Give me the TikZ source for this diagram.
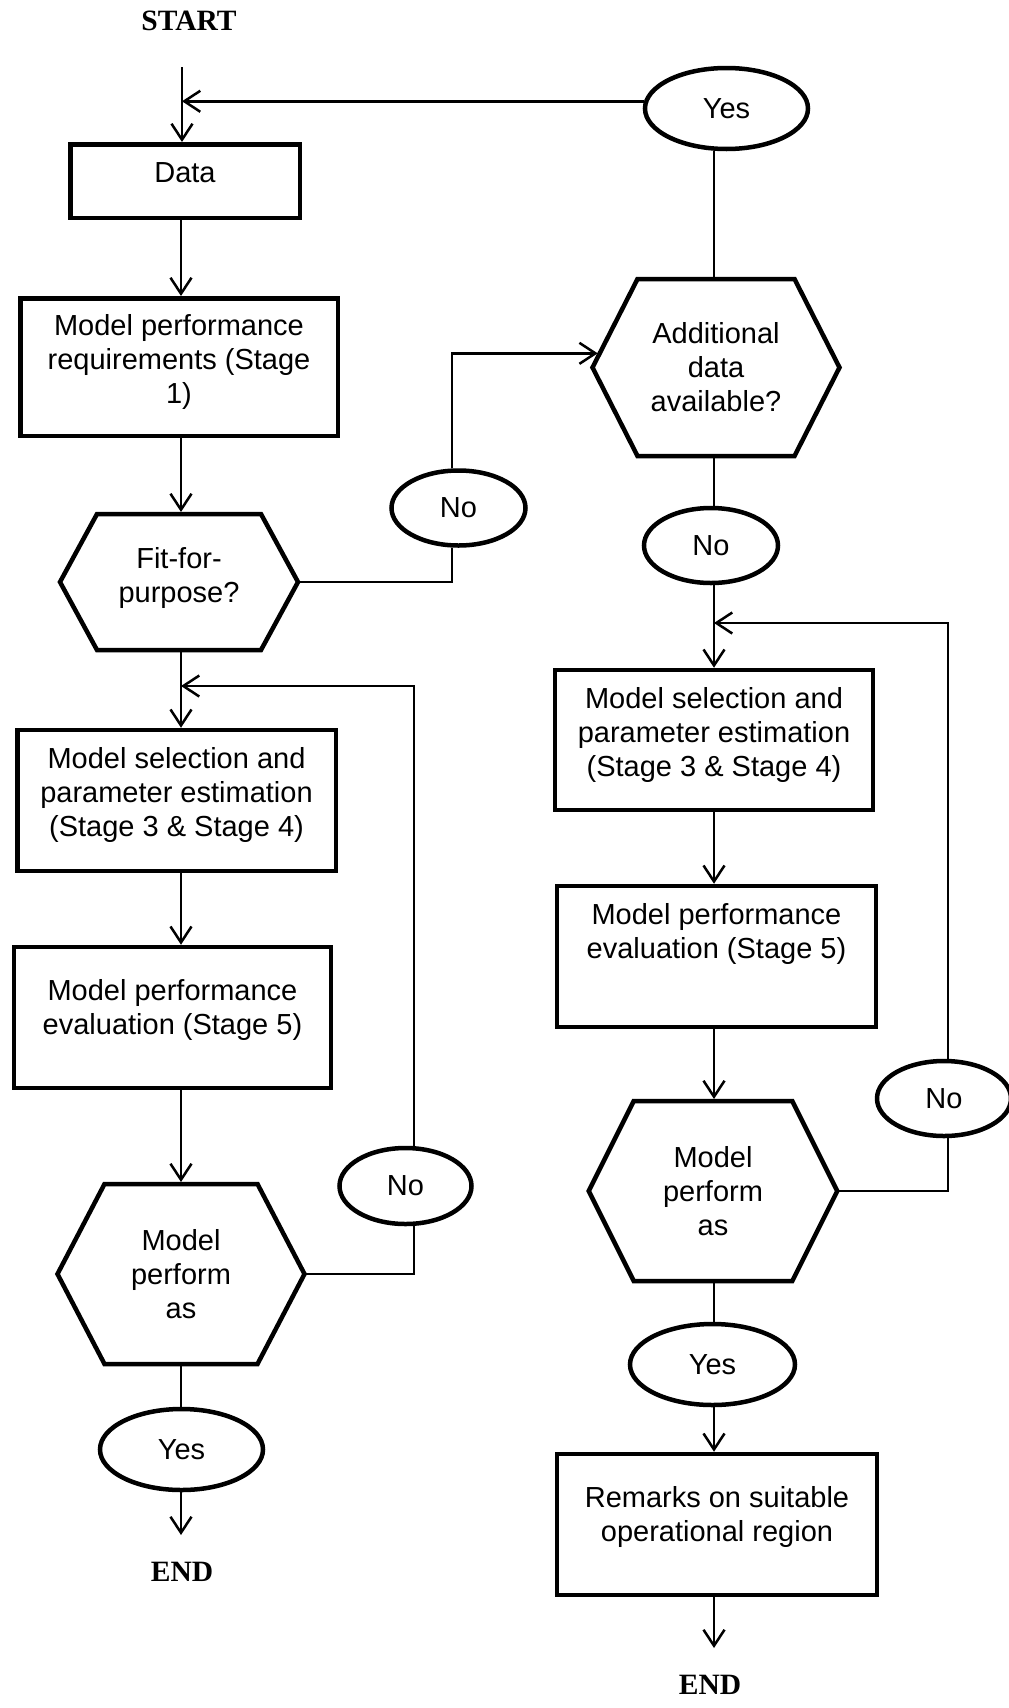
\documentclass[tikz,border=0pt]{standalone}
\usepackage{fontspec}
\setmainfont{Liberation Sans}
\newfontfamily\termfont{Liberation Serif}
\usetikzlibrary{arrows.meta, shapes.geometric, calc}

% hexagonal decision outline drawn over a bounding rectangle node
\newcommand\drawhex[2]{%
  \draw[hexline] (#1.west) -- ([xshift=#2]#1.north west) -- ([xshift=-#2]#1.north east)
    -- (#1.east) -- ([xshift=-#2]#1.south east) -- ([xshift=#2]#1.south west) -- cycle;}

\begin{document}
\begin{tikzpicture}[x=1pt, y=-1pt,
  conn/.style={line width=2.5pt},
  arr/.style={conn, -{Straight Barb[length=16pt, width=21pt]}},
  box/.style={rectangle, draw, line width=4.5pt, inner sep=0pt},
  hexbox/.style={rectangle, draw=none, inner sep=0pt, outer sep=0pt},
  hexline/.style={line width=4.5pt, line join=miter},
  oval/.style={ellipse, draw, line width=4.5pt, inner sep=0pt,
    font=\fontsize{29}{34}\selectfont},
  txt/.style={align=center, inner sep=0pt, font=\fontsize{29}{34}\selectfont},
  term/.style={inner sep=0pt, font=\termfont\bfseries\fontsize{29.5}{34}\selectfont}
]
\useasboundingbox (0,0) rectangle (1009,1708);

% column guides
\coordinate (colL) at (181,0);
\coordinate (colR) at (714,0);
\coordinate (fbA)  at (452,0);
\coordinate (fbL)  at (414,0);
\coordinate (fbR)  at (948,0);

% ---------- left branch ----------
\node[term] (start) at (189,21) {START};
\coordinate (s0) at (182,67);

\node[box, minimum width=229.5pt, minimum height=73.5pt,
  label={[txt, name=dataT, yshift=8pt]center:Data}] (data) at (185,181) {};

\node[box, minimum width=317.5pt, minimum height=137.5pt,
  label={[txt, name=mprT, yshift=5pt]center:{Model performance\\requirements (Stage\\1)}}]
  (mpr) at (179,367) {};

\node[hexbox, minimum width=238pt, minimum height=136pt,
  label={[txt, name=fitT, yshift=4.5pt]center:{Fit-for-\\purpose?}}] (fit) at (179,582) {};
\drawhex{fit}{37pt}

\node[box, minimum width=318.5pt, minimum height=141pt,
  label={[txt, name=mspeLT, yshift=5.5pt]center:{Model selection and\\parameter estimation\\(Stage 3 \& Stage 4)}}]
  (mspeL) at (176.5,800.5) {};

\node[box, minimum width=317pt, minimum height=141pt,
  label={[txt, name=mpeLT, yshift=7.5pt]center:{Model performance\\evaluation (Stage 5)}}]
  (mpeL) at (172.5,1017.5) {};

\node[hexbox, minimum width=247pt, minimum height=180pt,
  label={[txt, name=mpaLT]center:{Model\\perform\\as}}] (mpaL) at (181,1274) {};
\drawhex{mpaL}{47pt}

\node[oval, minimum width=163pt, minimum height=81pt] (yesL) at (181.5,1449.5) {Yes};
\coordinate (endL1) at (181,1535);
\node[term] (endL) at (182,1572) {END};

\node[oval, minimum width=134pt, minimum height=75pt] (noL1) at (458.5,508) {No};
\node[oval, minimum width=132pt, minimum height=76pt] (noL2) at (405.5,1186) {No};

% ---------- right branch ----------
\node[oval, minimum width=163pt, minimum height=81pt] (yesT) at (726.5,108.5) {Yes};

\node[hexbox, minimum width=247pt, minimum height=177pt,
  label={[txt, name=addT]center:{Additional\\data\\available?}}] (add) at (716,367.5) {};
\drawhex{add}{45pt}

\node[oval, minimum width=134pt, minimum height=75pt] (noR1) at (711,545.5) {No};

\node[box, minimum width=318pt, minimum height=140pt,
  label={[txt, name=mspeRT, yshift=5.5pt]center:{Model selection and\\parameter estimation\\(Stage 3 \& Stage 4)}}]
  (mspeR) at (714,740) {};

\node[box, minimum width=319pt, minimum height=141pt,
  label={[txt, name=mpeRT, yshift=23pt]center:{Model performance\\evaluation (Stage 5)}}]
  (mpeR) at (716.5,956.5) {};

\node[hexbox, minimum width=248.5pt, minimum height=180pt,
  label={[txt, name=mpaRT]center:{Model\\perform\\as}}] (mpaR) at (713,1191) {};
\drawhex{mpaR}{45pt}

\node[oval, minimum width=134pt, minimum height=75pt] (noR2) at (944,1098.5) {No};
\node[oval, minimum width=165pt, minimum height=81pt] (yesR) at (712.5,1364.5) {Yes};

\node[box, minimum width=320pt, minimum height=141pt,
  label={[txt, name=remT, yshift=8pt]center:{Remarks on suitable\\operational region}}]
  (remarks) at (717,1524.5) {};
\coordinate (endR1) at (714,1648);
\node[term] (endR) at (710,1685) {END};

% join points of the feedback loops
\coordinate (joinL) at (181,686);
\coordinate (joinR) at (714,623);
\coordinate (addIn) at ($(add.west)!0.16!([xshift=45pt]add.north west)$);

% ---------- connectors, left ----------
\draw[arr] (s0) -- (s0 |- data.north);
\draw[arr] (yesT.175) -- (yesT.175 -| s0);
\draw[arr] (data.south -| colL) -- (mpr.north -| colL);
\draw[arr, shorten >=2pt] (mpr.south -| colL) -- (fit.north -| colL);
\draw[arr] (fit.south -| colL) -- (mspeL.north -| colL);
\draw[arr] (mspeL.south -| colL) -- (mpeL.north -| colL);
\draw[arr, shorten >=2pt] (mpeL.south -| colL) -- (mpaL.north -| colL);
\draw[conn] (mpaL.south -| colL) -- (yesL.north -| colL);
\draw[arr] (yesL.south -| colL) -- (endL1);

\draw[conn] (fit.east) -| (noL1.south -| fbA);
\draw[arr, shorten >=2pt] (noL1.north -| fbA) |- (addIn);

\draw[conn] (mpaL.east) -| (noL2.south -| fbL);
\draw[arr] (noL2.north -| fbL) |- (joinL);

% ---------- connectors, right ----------
\draw[conn] (yesT.south -| colR) -- (add.north -| colR);
\draw[conn] (add.south -| colR) -- (noR1.north -| colR);
\draw[arr] (noR1.south -| colR) -- (mspeR.north -| colR);
\draw[arr] (mspeR.south -| colR) -- (mpeR.north -| colR);
\draw[arr, shorten >=2pt] (mpeR.south -| colR) -- (mpaR.north -| colR);
\draw[conn] (mpaR.south -| colR) -- (yesR.north -| colR);
\draw[arr] (yesR.south -| colR) -- (remarks.north -| colR);
\draw[arr] (remarks.south -| colR) -- (endR1);

\draw[conn] (mpaR.east) -| (noR2.south -| fbR);
\draw[arr] (noR2.north -| fbR) |- (joinR);
\end{tikzpicture}
\end{document}
